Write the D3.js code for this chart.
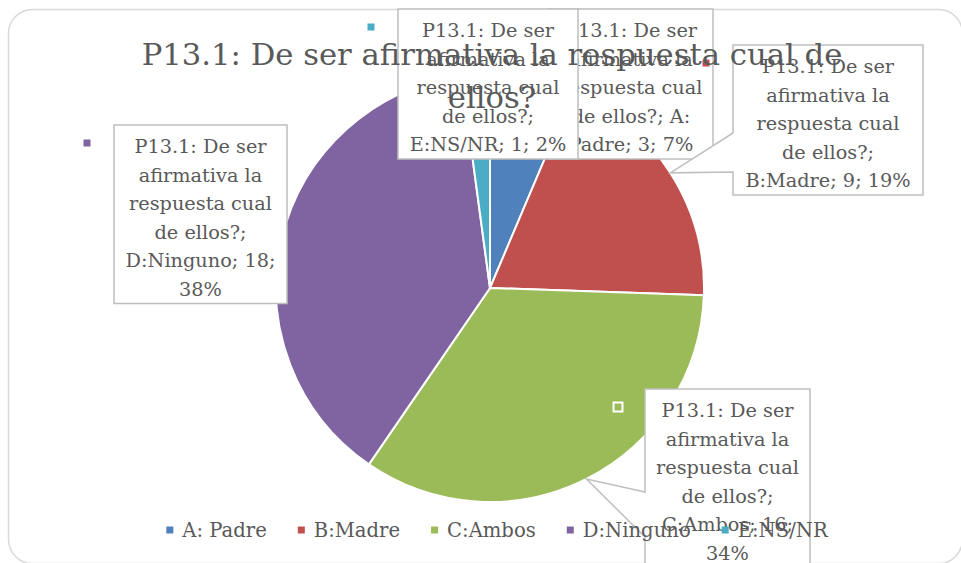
<!DOCTYPE html>
<html><head><meta charset="utf-8">
<script src="https://cdn.jsdelivr.net/npm/d3@7"></script>
<style>body{margin:0;background:#fff}svg{display:block}</style>
</head><body>
<svg id="chart" width="961" height="563"></svg>
<script>
// ---- data ----
const seriesName = "P13.1: De ser afirmativa la respuesta cual de ellos?";
const categories = ["A: Padre", "B:Madre", "C:Ambos", "D:Ninguno", "E:NS/NR"];
const values = [3, 9, 16, 18, 1];
const percentLabels = ["7%", "19%", "34%", "38%", "2%"];
const colors = ["#4f81bd", "#c0504d", "#9bbb59", "#8064a2", "#4bacc6"];

// ---- layout (annotation boxes) ----
const labelBoxes = [
  {x: 549, y: 9,   w: 164, wedge: null},
  {x: 733, y: 45,  w: 190, wedge: [133, 172]},
  {x: 645, y: 389, w: 165, wedge: [492, 537]},
  {x: 114, y: 125, w: 173, wedge: null},
  {x: 398, y: 9,   w: 180, wedge: null}
];

const FONT = "'DejaVu Serif', serif";
const TXT = "#595959";
const svg = d3.select("#chart");

// measuring helper
const meas = svg.append("text").attr("font-family", FONT).attr("visibility", "hidden");
function width(s, size) { meas.attr("font-size", size).text(s); return meas.node().getComputedTextLength(); }
// greedy wrap; series-name words use maxA, once the line holds later words use maxB
function wrap(str, size, maxA, maxB, nameWords) {
  const words = str.split(" ");
  const lines = []; let cur = "";
  words.forEach((w, idx) => {
    const t = cur ? cur + " " + w : w;
    const lim = idx < nameWords ? maxA : maxB;
    if (cur && width(t, size) > lim) { lines.push(cur); cur = w; } else cur = t;
  });
  if (cur) lines.push(cur);
  return lines;
}

// outer frame
svg.append("rect").attr("x", 8.5).attr("y", 9.5).attr("width", 954).attr("height", 554)
  .attr("rx", 24).attr("fill", "#fff").attr("stroke", "#d9d9d9").attr("stroke-width", 1.5);

// ---- pie ----
const cx = 490, cy = 288, R = 214;
const data = categories.map((c, i) => ({cat: c, value: values[i], pct: percentLabels[i], color: colors[i], i}));
const pie = d3.pie().sort(null).value(d => d.value);
const arcs = pie(data);
const arc = d3.arc().innerRadius(0).outerRadius(R);
const rim = d3.arc().innerRadius(R).outerRadius(R);
const g = svg.append("g").attr("transform", `translate(${cx},${cy})`);
g.selectAll("path").data(arcs).join("path")
  .attr("d", arc).attr("fill", d => d.data.color)
  .attr("stroke", "#fff").attr("stroke-width", 2).attr("stroke-linejoin", "round");

// ---- data labels ----
const LSIZE = 19.3, LH = 28.5;
const nameWords = seriesName.split(" ").length;
arcs.forEach((a, i) => {
  const b = labelBoxes[i];
  const text = `${seriesName}; ${a.data.cat}; ${a.data.value}; ${a.data.pct}`;
  const lines = wrap(text, LSIZE, 152, 167, nameWords);
  const bottom = b.y + 28 + (lines.length - 1) * LH + 8;
  const right = b.x + b.w;
  let d;
  if (b.wedge) {
    const c = rim.centroid(a);
    const tx = cx + c[0], ty = cy + c[1];
    d = `M${b.x},${b.y}H${right}V${bottom}H${b.x}V${b.wedge[1]}L${tx},${ty}L${b.x},${b.wedge[0]}Z`;
  } else {
    d = `M${b.x},${b.y}H${right}V${bottom}H${b.x}Z`;
  }
  const lg = svg.append("g");
  lg.append("path").attr("d", d).attr("fill", "#fff").attr("stroke", "#bfbfbf").attr("stroke-width", 1.5);
  lg.append("rect").attr("x", b.x - 30.5).attr("y", b.y + 28 - 13.5).attr("width", 7).attr("height", 7)
    .attr("fill", a.data.color).attr("stroke", "#fff").attr("stroke-width", 4).attr("paint-order", "stroke");
  lg.selectAll("text").data(lines).join("text")
    .attr("x", b.x + b.w / 2).attr("y", (l, k) => b.y + 28 + k * LH)
    .attr("text-anchor", "middle").attr("font-family", FONT).attr("font-size", LSIZE)
    .attr("fill", TXT).text(l => l);
});

// ---- title ----
let TSIZE = 29;
const titleLines = wrap(seriesName, TSIZE, 700, 700, 99);
TSIZE = TSIZE * 701 / width(titleLines[0], TSIZE);
svg.append("g").selectAll("text").data(titleLines).join("text")
  .attr("x", 492).attr("y", (l, k) => 65 + k * 43)
  .attr("text-anchor", "middle").attr("font-family", FONT).attr("font-size", TSIZE)
  .attr("fill", TXT).text(l => l);

// ---- legend ----
const GSIZE = 19.6;
const items = data.map(d => ({...d, tw: width(d.cat, GSIZE)}));
const itemW = items.map((d, k) => 7 + 9 + d.tw + (k < items.length - 1 ? 31 : 0));
const totalW = d3.sum(itemW);
let lx = 497 - totalW / 2;
const leg = svg.append("g");
items.forEach((d, k) => {
  leg.append("rect").attr("x", lx).attr("y", 526.5).attr("width", 7).attr("height", 7).attr("fill", d.color);
  leg.append("text").attr("x", lx + 16).attr("y", 537).attr("font-family", FONT).attr("font-size", GSIZE)
    .attr("fill", TXT).text(d.cat);
  lx += itemW[k];
});
meas.remove();
</script>
</body></html>
